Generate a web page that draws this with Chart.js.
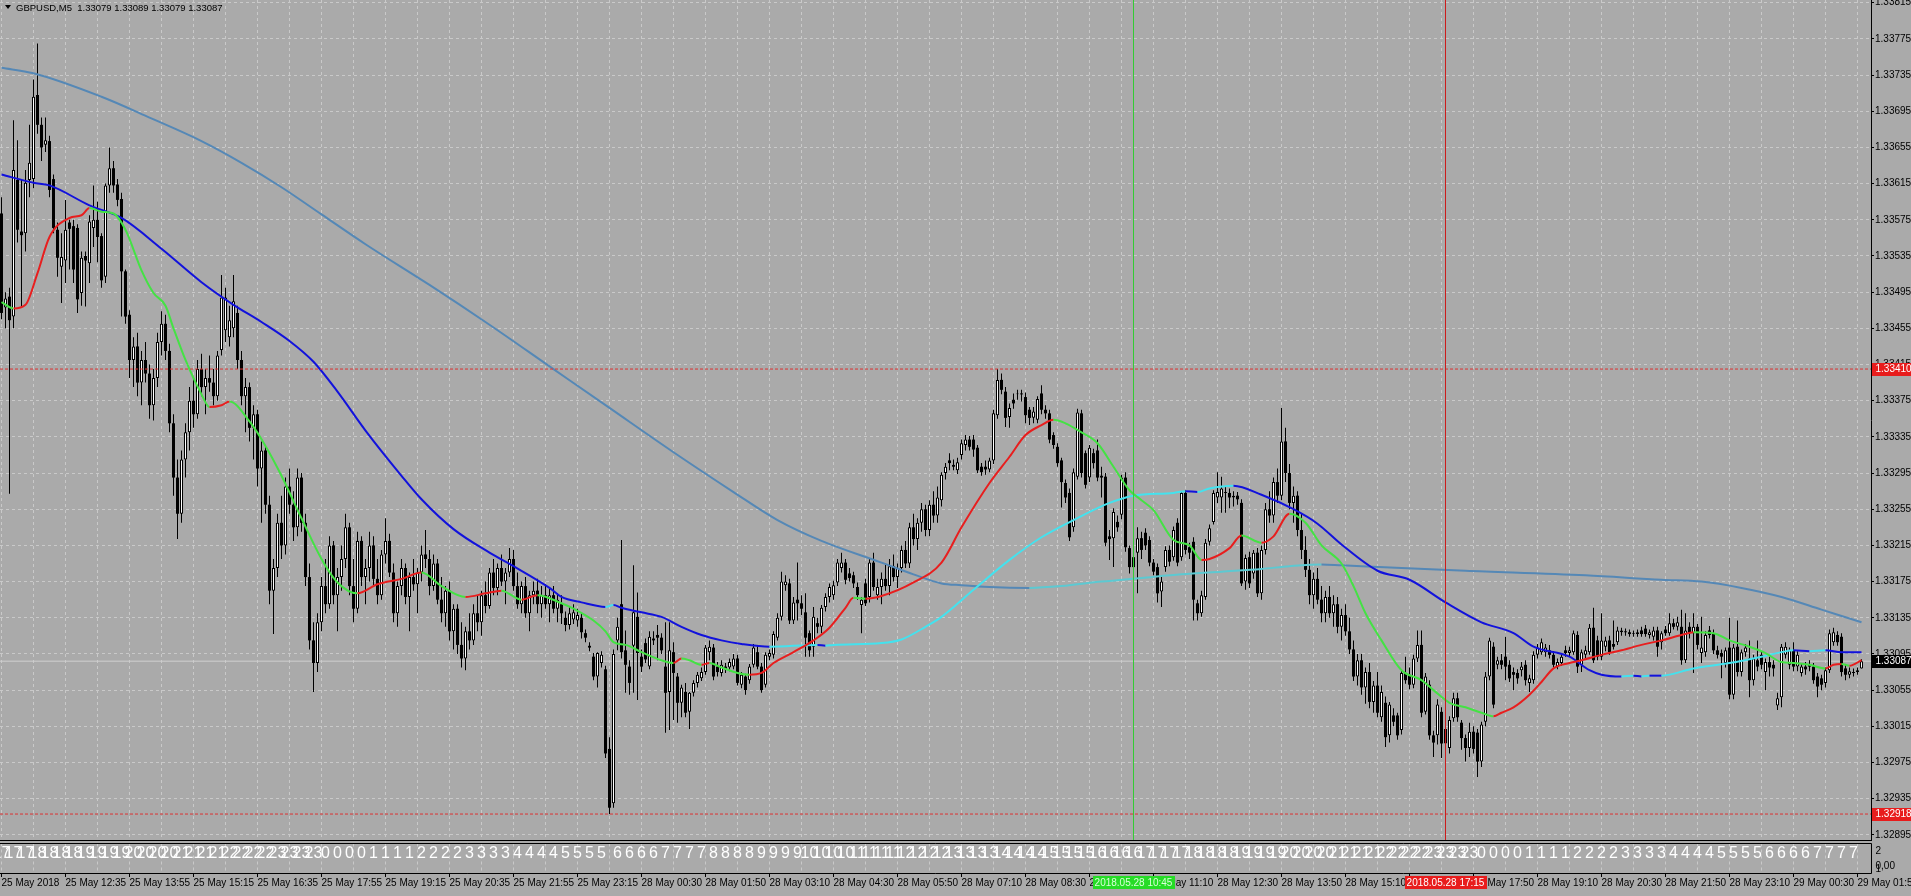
<!DOCTYPE html>
<html>
<head>
<meta charset="utf-8">
<title>GBPUSD,M5</title>
<script src="https://cdn.jsdelivr.net/npm/chart.js@4.4.1/dist/chart.umd.min.js"></script>
<style>
  html, body { margin: 0; padding: 0; background: #aaaaaa; overflow: hidden; }
  canvas { display: block; }
</style>
</head>
<body>
<canvas id="chart" width="1911" height="896" style="width:1911px;height:896px"></canvas>
<script>
// prices are kept in points above 1.30000 (1 point = 0.00001)
const BASE = 1.3;
const POINT = 0.00001;

const headerText = "GBPUSD,M5  1.33079 1.33089 1.33079 1.33087";

// time axis labels, one every 16 bars
const timeLabels = ["25 May 2018","25 May 12:35","25 May 13:55","25 May 15:15","25 May 16:35","25 May 17:55",
  "25 May 19:15","25 May 20:35","25 May 21:55","25 May 23:15","28 May 00:30","28 May 01:50","28 May 03:10",
  "28 May 04:30","28 May 05:50","28 May 07:10","28 May 08:30","28 May 09:50","28 May 11:10","28 May 12:30",
  "28 May 13:50","28 May 15:10","28 May 16:30","28 May 17:50","28 May 19:10","28 May 20:30","28 May 21:50",
  "28 May 23:10","29 May 00:30","29 May 01:50"];

const priceTicks = [1.32895,1.32935,1.32975,1.33015,1.33055,1.33095,1.33135,1.33175,1.33215,1.33255,1.33295,
  1.33335,1.33375,1.33415,1.33455,1.33495,1.33535,1.33575,1.33615,1.33655,1.33695,1.33735,1.33775,1.33815];

// hour numbers printed in the lower window, every 3rd bar of each session
const hoursFriday = "17 17 17 18 18 18 18 19 19 19 19 20 20 20 20 21 21 21 21 22 22 22 22 23 23 23 23 0 0 0 0 1 1 1 1 2 2 2 2 3 3 3 3 4 4 4 4 5 5 5 5".split(" ");
const hoursMonday = "6 6 6 6 7 7 7 7 8 8 8 8 9 9 9 9 10 10 10 10 11 11 11 11 12 12 12 12 13 13 13 13 14 14 14 14 15 15 15 15 16 16 16 16 17 17 17 17 18 18 18 18 19 19 19 19 20 20 20 20 21 21 21 21 22 22 22 22 23 23 23 23 0 0 0 0 1 1 1 1 2 2 2 2 3 3 3 3 4 4 4 4 5 5 5 5 6 6 6 6 7 7 7 7".split(" ");

// [open, high, low, close] per M5 bar
const fridayBars = [
[3582,3600,3465,3472],[3478,3495,3455,3488],[3490,3500,3272,3464],[3468,3685,3455,3630],[3619,3663,3550,3564],
[3562,3619,3479,3558],[3560,3630,3540,3616],[3619,3680,3600,3638],[3620,3730,3610,3711],[3713,3770,3670,3680],
[3680,3688,3640,3655],[3658,3688,3650,3663],[3662,3668,3600,3608],[3620,3625,3560,3566],[3564,3572,3512,3533],
[3523,3560,3483,3534],[3530,3597,3505,3564],[3572,3575,3520,3565],[3568,3575,3505,3520],[3566,3570,3472,3487],
[3494,3540,3480,3533],[3535,3540,3479,3530],[3527,3580,3505,3573],[3566,3613,3545,3575],[3575,3595,3528,3556],
[3557,3560,3500,3508],[3512,3615,3505,3613],[3613,3655,3605,3632],[3632,3640,3605,3613],[3614,3620,3590,3597],
[3598,3605,3468,3518],[3518,3520,3460,3468],[3470,3475,3400,3420],
[3420,3445,3390,3435],[3435,3450,3380,3395],[3395,3430,3370,3420],[3420,3440,3395,3405],[3405,3415,3355,3370],
[3370,3410,3353,3400],[3400,3450,3390,3440],[3440,3474,3425,3460],[3460,3470,3420,3430],[3430,3438,3340,3350],
[3350,3360,3270,3290],[3290,3310,3222,3250],[3250,3320,3240,3310],[3310,3350,3290,3340],[3340,3390,3320,3375],
[3375,3400,3345,3360],[3360,3420,3355,3410],[3410,3427,3380,3390],[3390,3410,3360,3400],[3400,3425,3385,3395],
[3395,3410,3370,3380],[3380,3430,3375,3425],[3431,3514,3425,3489],[3453,3500,3440,3489],[3445,3480,3435,3464],
[3455,3514,3445,3485],[3472,3480,3410,3420],[3420,3430,3370,3380],[3380,3400,3340,3390],[3390,3395,3330,3345],
[3345,3370,3310,3360],[3360,3365,3280,3300],[3300,3330,3240,3320],[3320,3325,3250,3260],[3260,3270,3150,3165],
[3165,3200,3117,3190],[3190,3250,3180,3240],[3240,3270,3200,3215],[3215,3290,3205,3280],[3280,3300,3250,3260],
[3260,3275,3220,3235],[3235,3300,3225,3290],[3290,3295,3230,3240],[3240,3250,3170,3180],[3180,3195,3100,3110],
[3110,3130,3053,3085],[3085,3140,3075,3130],[3130,3180,3120,3170],[3170,3200,3140,3150],[3150,3225,3145,3215],
[3215,3220,3150,3160],[3160,3190,3120,3180],[3180,3215,3165,3200],[3200,3250,3190,3235],[3235,3240,3160,3170],
[3170,3200,3130,3145],[3145,3230,3140,3220],[3220,3225,3170,3180],[3180,3200,3150,3190],[3190,3230,3175,3215],
[3215,3225,3170,3178],[3178,3200,3150,3160],[3160,3210,3155,3205],[3205,3245,3195,3220],[3220,3228,3180,3185],
[3185,3195,3130,3140],[3140,3175,3125,3170],[3170,3200,3160,3190],[3190,3195,3150,3158],[3158,3185,3120,3180],
[3180,3200,3165,3172],[3172,3190,3140,3185],[3185,3215,3175,3205],[3205,3232,3190,3200],[3200,3210,3160,3170],
[3170,3205,3165,3195],[3195,3200,3150,3155],[3155,3180,3130,3140],[3140,3170,3125,3165],[3165,3175,3110,3120],
[3120,3150,3100,3145],[3145,3150,3095,3105],[3105,3130,3080,3090],[3090,3125,3077,3120],[3120,3140,3100,3110],
[3110,3150,3105,3140],[3140,3160,3120,3130],[3130,3165,3115,3160],[3160,3175,3140,3148],[3148,3190,3145,3185],
[3185,3200,3160,3168],[3168,3195,3160,3190],[3190,3205,3170,3175],[3175,3190,3150,3185],[3185,3212,3180,3200],
[3200,3210,3165,3170],[3170,3185,3145,3150],[3150,3175,3140,3170],[3170,3180,3135,3140],[3140,3165,3120,3160],
[3160,3175,3150,3165],[3165,3178,3140,3150],[3150,3170,3135,3160],[3160,3172,3145,3150],[3150,3168,3130,3160],
[3160,3170,3140,3145],[3145,3162,3130,3155],[3150,3160,3128,3140],[3135,3142,3120,3127],[3127,3148,3122,3140],
[3133,3150,3128,3141],[3132,3145,3125,3138],[3135,3140,3112,3119],[3118,3122,3108,3113],[3104,3108,3098,3102],
[3092,3096,3066,3070],[3070,3097,3058,3096],[3085,3098,3080,3094],[3078,3082,2980,2985],[2990,3003,2918,2925],
[2930,3100,2925,3095]
];

const mondayBars = [
[3110,3135,3099,3125],[3150,3221,3090,3097],[3099,3121,3052,3083],[3081,3088,3050,3063],[3104,3193,3052,3141],
[3136,3163,3044,3096],[3092,3100,3075,3081],[3107,3112,3085,3089],[3081,3120,3078,3114],[3112,3120,3105,3110],
[3116,3127,3088,3113],[3113,3118,3095,3099],[3081,3130,3008,3052],[3053,3130,3011,3099],[3097,3108,3022,3074],
[3070,3074,3019,3041],[3041,3061,3025,3058],[3053,3063,3025,3030],[3031,3053,3012,3052],[3052,3066,3048,3063],
[3063,3075,3058,3072],[3068,3080,3065,3075],[3075,3105,3072,3102],[3097,3110,3088,3103],[3102,3106,3066,3070],
[3081,3086,3070,3075],[3074,3088,3070,3083],[3081,3085,3074,3078],[3080,3090,3076,3086],[3081,3095,3078,3090],
[3090,3094,3060,3063],[3061,3075,3057,3072],[3070,3073,3050,3055],[3066,3084,3062,3081],[3083,3106,3080,3102],
[3097,3104,3078,3081],[3081,3085,3052,3055],[3061,3097,3058,3094],[3092,3100,3088,3096],[3094,3120,3090,3117],
[3113,3140,3110,3135],[3136,3186,3132,3175],[3171,3182,3165,3175],[3173,3178,3128,3132],[3132,3158,3128,3152],
[3155,3196,3132,3151],[3151,3160,3138,3145],[3141,3162,3092,3113],[3118,3121,3092,3099],[3103,3147,3092,3136],
[3129,3135,3118,3125],[3125,3149,3118,3146],[3147,3162,3142,3158],[3158,3173,3152,3169],[3160,3176,3155,3171],
[3174,3200,3170,3196],[3190,3207,3185,3196],[3196,3200,3172,3177],[3184,3190,3175,3179],[3182,3186,3168,3173],
[3169,3174,3155,3160],[3149,3158,3118,3155],[3173,3178,3148,3151],[3158,3200,3152,3196],[3196,3207,3165,3169],
[3160,3178,3155,3169],[3169,3185,3150,3178],[3178,3195,3165,3170],[3170,3200,3160,3192],[3192,3205,3175,3180],
[3180,3195,3168,3190],[3190,3215,3185,3210],[3210,3220,3190,3195],[3195,3240,3190,3235],[3235,3250,3215,3222],
[3222,3245,3210,3240],[3240,3262,3230,3255],[3255,3260,3225,3232],[3232,3265,3225,3260],[3260,3275,3240,3248],
[3248,3280,3240,3268],[3265,3296,3258,3293],[3295,3306,3288,3302],[3309,3317,3298,3306],[3304,3310,3298,3302],
[3298,3312,3294,3307],[3315,3332,3310,3328],[3326,3337,3320,3332],[3332,3336,3320,3324],[3332,3337,3313,3321],
[3323,3326,3295,3298],[3302,3306,3292,3296],[3302,3309,3293,3299],[3299,3312,3296,3309],[3309,3365,3305,3361],
[3359,3410,3355,3398],[3398,3405,3382,3387],[3385,3390,3346,3356],[3357,3372,3345,3367],[3376,3383,3366,3372],
[3382,3387,3376,3383],[3383,3387,3374,3382],[3379,3384,3350,3359],[3365,3368,3348,3356],[3356,3368,3350,3363],
[3354,3380,3350,3377],[3383,3392,3360,3365],[3365,3370,3355,3361],[3361,3365,3328,3332],[3337,3340,3322,3326],
[3324,3328,3302,3306],[3309,3312,3257,3285],[3284,3288,3262,3268],[3273,3278,3220,3224],[3235,3300,3230,3296],
[3291,3366,3288,3362],[3361,3365,3290,3295],[3317,3320,3278,3282],[3290,3326,3285,3323],[3317,3322,3300,3306],
[3320,3332,3286,3290],[3292,3302,3268,3290],[3291,3295,3214,3218],[3225,3232,3199,3222],[3223,3256,3191,3252],
[3241,3248,3230,3235],[3249,3293,3244,3290],[3290,3296,3208,3213],[3212,3215,3184,3191],[3202,3206,3184,3191],
[3207,3235,3162,3223],[3223,3230,3200,3210],[3229,3234,3210,3215],[3221,3225,3192,3196],[3196,3200,3182,3186],
[3191,3195,3152,3162],[3164,3180,3147,3175],[3191,3214,3186,3210],[3210,3215,3192,3197],[3202,3236,3198,3232],
[3240,3245,3192,3196],[3202,3275,3198,3273],[3273,3276,3205,3210],[3213,3218,3200,3207],[3219,3224,3132,3155],
[3151,3155,3132,3140],[3140,3165,3136,3160],[3158,3222,3155,3218],[3219,3238,3215,3234],[3241,3276,3238,3273],
[3268,3296,3262,3274],[3268,3291,3251,3278],[3274,3280,3251,3273],[3273,3278,3256,3268],[3268,3275,3258,3270],
[3270,3274,3260,3266],[3262,3266,3170,3173],[3175,3205,3166,3201],[3202,3208,3168,3173],[3184,3210,3178,3207],
[3207,3212,3158,3162],[3162,3215,3155,3210],[3210,3262,3205,3255],[3255,3275,3240,3248],[3248,3290,3240,3285],
[3285,3300,3262,3270],[3270,3367,3265,3330],[3330,3345,3285,3295],[3295,3305,3255,3262],[3262,3280,3240,3270],
[3270,3275,3225,3232],[3232,3250,3200,3210],[3210,3225,3180,3188],[3188,3200,3150,3160],[3160,3185,3145,3178],
[3178,3190,3150,3155],[3155,3170,3130,3140],[3140,3165,3130,3158],[3158,3170,3135,3140],[3140,3160,3125,3150],
[3150,3158,3118,3125],[3125,3145,3110,3138],[3138,3150,3115,3120],[3120,3135,3095,3100],[3100,3110,3065,3070],
[3070,3095,3060,3088],[3088,3095,3050,3058],[3058,3080,3040,3075],[3075,3085,3035,3042],[3042,3065,3030,3060],
[3060,3075,3025,3030],[3025,3060,3020,3053],[3041,3048,2992,3003],[3005,3042,2997,3039],[3027,3035,3015,3020],
[3027,3030,3000,3005],[3011,3078,3006,3074],[3074,3092,3062,3066],[3072,3080,3056,3061],[3061,3094,3057,3090],
[3090,3121,3086,3105],[3105,3121,3025,3030],[3031,3074,3028,3070],[3061,3066,3000,3005],[3005,3010,2981,2997],
[3005,3045,2995,3039],[3031,3036,2980,2996],[2996,3020,2990,3012],[2991,3026,2985,3022],[3024,3052,3020,3046],
[3046,3052,3020,3025],[3019,3022,2989,3002],[3002,3006,2976,2991],[2991,3019,2981,3009],[3009,3015,2985,2990],
[3008,3012,2959,2976],[2976,3020,2970,3017],[3020,3075,3015,3070],[3070,3113,3066,3110],[3103,3108,3035,3039],
[3083,3092,3078,3088],[3088,3095,3078,3083],[3092,3114,3066,3081],[3083,3088,3064,3068],[3075,3080,3055,3072],
[3074,3078,3062,3068],[3077,3086,3070,3081],[3083,3088,3060,3066],[3063,3072,3053,3068],[3066,3098,3062,3094],
[3094,3106,3090,3102],[3097,3112,3094,3108],[3097,3106,3092,3102],[3099,3105,3090,3094],[3094,3098,3080,3083],
[3081,3090,3078,3086],[3085,3095,3082,3092],[3099,3104,3092,3096],[3096,3103,3092,3099],[3097,3121,3094,3118],
[3116,3120,3074,3081],[3083,3100,3075,3097],[3094,3104,3090,3099],[3097,3128,3094,3124],[3124,3146,3085,3088],
[3110,3115,3088,3092],[3092,3140,3088,3110],[3103,3114,3098,3110],[3110,3115,3094,3097],[3106,3132,3100,3103],
[3108,3125,3105,3121],[3119,3124,3115,3121],[3120,3123,3115,3119],[3119,3122,3114,3117],[3117,3121,3114,3118],
[3117,3122,3114,3119],[3121,3125,3114,3117],[3123,3127,3114,3117],[3116,3122,3112,3119],[3114,3125,3110,3121],
[3121,3125,3092,3103],[3108,3120,3100,3118],[3122,3126,3115,3118],[3118,3140,3115,3129],[3129,3134,3122,3125],
[3125,3136,3121,3130],[3125,3144,3083,3088],[3088,3140,3085,3121],[3125,3130,3112,3118],[3118,3140,3074,3125],
[3125,3128,3100,3105],[3096,3136,3085,3102],[3097,3120,3092,3116],[3121,3126,3112,3116],[3118,3122,3095,3099],
[3099,3104,3090,3094],[3096,3100,3068,3092],[3085,3102,3080,3099],[3102,3135,3045,3050],[3050,3106,3045,3102],
[3103,3132,3070,3075],[3075,3100,3070,3097],[3097,3106,3092,3102],[3090,3110,3047,3066],[3066,3094,3060,3090],
[3088,3110,3076,3081],[3094,3098,3078,3083],[3075,3090,3055,3086],[3086,3092,3070,3080],[3083,3088,3070,3079],
[3038,3052,3033,3046],[3047,3106,3036,3103],[3094,3108,3090,3103],[3083,3102,3078,3099],[3099,3108,3076,3081],
[3081,3098,3076,3094],[3074,3085,3070,3081],[3081,3086,3072,3078],[3083,3088,3076,3081],[3081,3085,3062,3066],
[3070,3074,3047,3059],[3068,3072,3055,3061],[3063,3080,3058,3077],[3077,3122,3074,3118],[3108,3124,3104,3119],
[3116,3120,3104,3108],[3114,3118,3070,3075],[3079,3084,3066,3072],[3072,3080,3068,3076],[3074,3079,3070,3075],
[3075,3080,3072,3077],[3079,3089,3079,3087]
];

// moving averages: [bar index, points]
const shortMA = [[0,3484],[3,3477],[6,3481],[9,3516],[12,3556],[17,3577],[20,3580],[22,3588],[25,3584],[28,3582],
  [31,3564],[35,3519],[38,3494],[41,3480],[43,3455],[46,3420],[50,3382],[52,3368],[55,3370],[57,3374],[62,3352],
  [66,3325],[70,3292],[75,3245],[80,3200],[84,3174],[89,3162],[94,3172],[100,3178],[105,3185],[110,3170],[116,3158],
  [121,3162],[125,3165],[130,3155],[134,3160],[140,3151],[143,3145],[148,3132],[151,3120],[153,3108],[156,3105],
  [160,3097],[165,3088],[168,3085],[170,3090],[172,3088],[175,3083],[177,3085],[180,3080],[184,3074],[187,3072],
  [190,3074],[193,3085],[198,3097],[203,3110],[207,3124],[211,3146],[213,3157],[216,3156],[220,3159],[228,3174],
  [235,3196],[240,3235],[247,3284],[252,3313],[256,3337],[260,3348],[263,3354],[266,3350],[270,3340],[274,3328],
  [278,3302],[282,3276],[285,3265],[288,3254],[293,3221],[297,3215],[300,3199],[302,3200],[307,3212],[310,3226],
  [315,3218],[318,3225],[322,3250],[326,3240],[330,3215],[335,3195],[338,3170],[341,3140],[345,3110],[350,3077],
  [355,3066],[358,3055],[362,3041],[366,3036],[370,3030],[373,3026],[375,3030],[378,3036],[382,3050],[385,3064],
  [388,3079],[392,3085],[395,3088],[400,3094],[405,3099],[410,3105],[415,3110],[420,3116],[423,3119],[428,3118],
  [432,3110],[437,3103],[441,3096],[445,3086],[448,3085],[452,3083],[456,3079],[458,3083],[460,3084],[462,3082],
  [465,3088]];

const midMA = [[0,3625],[8,3616],[12,3613],[22,3591],[30,3577],[40,3543],[50,3506],[58,3481],[65,3462],[72,3441],
  [78,3418],[84,3385],[91,3342],[100,3292],[105,3266],[113,3233],[122,3207],[128,3192],[137,3168],[140,3158],
  [145,3152],[151,3147],[153,3149],[155,3146],[160,3141],[165,3136],[170,3125],[175,3116],[180,3110],[185,3106],
  [192,3103],[204,3105],[206,3104],[208,3105],[220,3107],[225,3111],[231,3125],[235,3136],[243,3166],[252,3199],
  [260,3224],[268,3243],[277,3262],[283,3270],[293,3273],[296,3275],[299,3274],[302,3278],[308,3281],[315,3271],
  [323,3255],[329,3239],[335,3216],[344,3187],[352,3177],[361,3152],[370,3130],[378,3118],[383,3103],[392,3092],
  [397,3077],[400,3072],[405,3070],[408,3071],[410,3070],[412,3071],[415,3071],[423,3079],[432,3085],[440,3092],
  [445,3097],[448,3099],[452,3098],[456,3099],[460,3097],[465,3097]];

const longMA = [[0,3743],[8,3737],[25,3711],[37,3688],[50,3662],[60,3638],[70,3611],[80,3581],[91,3548],[107,3503],
  [122,3459],[137,3413],[152,3367],[168,3318],[183,3274],[194,3243],[205,3220],[220,3196],[228,3183],[235,3173],
  [240,3171],[247,3169],[257,3168],[265,3170],[275,3175],[285,3179],[295,3183],[305,3186],[315,3189],[322,3192],
  [330,3194],[335,3193],[350,3190],[366,3187],[396,3182],[415,3177],[425,3175],[435,3168],[445,3158],[455,3144],
  [465,3130]];

const levelHigh = 1.33410;
const levelLow = 1.32918;
const bidPrice = 1.33087;
const greenMarkerBar = 283, greenMarkerText = "2018.05.28 10:45";
const redMarkerBar = 361, redMarkerText = "2018.05.28 17:15";
const mondayStartBar = fridayBars.length;

// layout
const X_MIN = -0.375, X_MAX = 467.375;
const Y_MIN = 1.328893, Y_MAX = 1.33818;
const BG = '#aaaaaa';
const GRID = '#c9c9c9';
const FONT = '"Liberation Sans", Arial, sans-serif';

const toPrice = v => +(BASE + v * POINT).toFixed(5);

const bars = fridayBars.concat(mondayBars);
const wicks = [], bull = [], bear = [], doji = [];
bars.forEach((b, i) => {
  const [o, h, l, c] = b.map(toPrice);
  wicks.push({x: i, y: [l, h]});
  if (c > o) bull.push({x: i, y: [o, c]});
  else if (c < o) bear.push({x: i, y: [c, o]});
  else doji.push({x: i, y: o});
});

const gridBars = [];
for (let v = 0; v <= 464; v += 8) gridBars.push(v);

function hLine(p) { return [{x: X_MIN, y: p}, {x: X_MAX, y: p}]; }
function vLine(bar) { return [{x: bar, y: Y_MIN}, {x: bar, y: Y_MAX}]; }

// colour switches with the direction of each segment
function maLine(points, fallColor, riseColor, order) {
  return {
    type: 'line',
    data: points.map(([i, v]) => ({x: i, y: toPrice(v)})),
    borderColor: fallColor,
    borderWidth: 2,
    pointRadius: 0,
    cubicInterpolationMode: 'monotone',
    segment: {
      borderColor: ctx => ctx.p1.parsed.y > ctx.p0.parsed.y ? riseColor : fallColor
    },
    order: order
  };
}

const extras = {
  id: 'mt4Extras',
  beforeDraw(chart) {
    const c = chart.ctx;
    c.save();
    c.fillStyle = BG;
    c.fillRect(0, 0, chart.width, chart.height);
    c.restore();
  },
  afterDraw(chart) {
    const c = chart.ctx;
    const xs = chart.scales.x, ys = chart.scales.y, area = chart.chartArea;
    const right = Math.round(area.right) + 0.5;
    c.save();

    // symbol header
    c.fillStyle = '#000';
    c.beginPath();
    c.moveTo(5, 5); c.lineTo(11, 5); c.lineTo(8, 9); c.closePath(); c.fill();
    c.font = '9.5px ' + FONT;
    c.textAlign = 'left';
    c.textBaseline = 'middle';
    c.fillText(headerText, 16, 8);

    // lower indicator window
    const subTop = 843.5, subBottom = 873.5;
    c.save();
    c.beginPath();
    c.rect(0, subTop, area.right, subBottom - subTop);
    c.clip();
    c.strokeStyle = GRID;
    c.setLineDash([3, 3]);
    c.lineWidth = 1;
    gridBars.forEach(v => {
      const x = Math.round(xs.getPixelForValue(v) - 0.5) + 0.5;
      c.beginPath(); c.moveTo(x, subTop); c.lineTo(x, subBottom); c.stroke();
    });
    c.setLineDash([]);
    c.fillStyle = '#ffffff';
    c.font = '16px "Liberation Sans Narrow", ' + FONT;
    c.textAlign = 'center';
    c.textBaseline = 'alphabetic';
    hoursFriday.forEach((t, k) => c.fillText(t, xs.getPixelForValue(3 * k), 858));
    hoursMonday.forEach((t, k) => c.fillText(t, xs.getPixelForValue(mondayStartBar + 3 * k), 858));
    c.restore();

    c.strokeStyle = '#000';
    c.lineWidth = 1;
    c.beginPath();
    c.moveTo(0, subTop); c.lineTo(right, subTop);
    c.moveTo(0, subBottom); c.lineTo(right, subBottom);
    c.moveTo(right, subTop); c.lineTo(right, subBottom);
    c.stroke();
    c.fillStyle = '#000';
    c.font = '10px ' + FONT;
    c.textAlign = 'left';
    c.textBaseline = 'middle';
    c.fillText('2', right + 4, 851);
    c.fillText('0,00', right + 4, 866);
    c.fillText('1', right + 4, 869);

    // time axis tick marks
    c.beginPath();
    timeLabels.forEach((t, k) => {
      const x = Math.round(xs.getPixelForValue(16 * k) - 0.5) + 0.5;
      c.moveTo(x, 873.5); c.lineTo(x, 877);
    });
    c.stroke();

    // price markers on the right axis
    const priceBox = (p, bg) => {
      const y = Math.round(ys.getPixelForValue(p));
      c.fillStyle = bg;
      c.fillRect(right + 0.5, y - 6, chart.width - right, 13);
      c.fillStyle = '#ffffff';
      c.fillText(p.toFixed(5), right + 4, y + 0.5);
    };
    priceBox(levelHigh, '#e81c1c');
    priceBox(levelLow, '#e81c1c');
    priceBox(bidPrice, '#000000');

    // time markers on the bottom axis
    const timeBox = (bar, text, bg, fg) => {
      const x = xs.getPixelForValue(bar);
      const w = c.measureText(text).width + 4;
      c.fillStyle = bg;
      c.fillRect(Math.round(x - w / 2), 876, Math.round(w), 13);
      c.fillStyle = fg;
      c.textAlign = 'center';
      c.fillText(text, x, 883);
    };
    timeBox(greenMarkerBar, greenMarkerText, '#26dc26', '#d8ffd8');
    timeBox(redMarkerBar, redMarkerText, '#e81c1c', '#ffffff');
    c.restore();
  }
};

const common = {grouped: false, inflateAmount: 0, borderSkipped: false};

new Chart(document.getElementById('chart'), {
  type: 'bar',
  data: {
    datasets: [
      {type: 'line', data: hLine(bidPrice), borderColor: '#cfcfcf', borderWidth: 1, pointRadius: 0, order: 30},
      Object.assign({data: wicks, backgroundColor: '#000', borderWidth: 0, barThickness: 1, order: 22}, common),
      Object.assign({data: bear, backgroundColor: '#000', borderWidth: 0, barThickness: 3, order: 21}, common),
      Object.assign({data: bull, backgroundColor: '#fff', borderColor: '#000', borderWidth: 1, barThickness: 3, order: 20}, common),
      {type: 'line', data: doji, showLine: false, pointStyle: 'line', pointRadius: 1.5, borderColor: '#000', borderWidth: 1, order: 19},
      maLine(longMA, '#5588b6', '#5cc9d2', 8),
      maLine(midMA, '#1212dc', '#44e2ee', 7),
      maLine(shortMA, '#44e244', '#e81e1e', 6),
      {type: 'line', data: hLine(levelHigh), borderColor: '#dc3434', borderWidth: 1, borderDash: [3, 2], pointRadius: 0, order: 3},
      {type: 'line', data: hLine(levelLow), borderColor: '#dc3434', borderWidth: 1, borderDash: [3, 2], pointRadius: 0, order: 3},
      {type: 'line', data: vLine(greenMarkerBar), borderColor: '#33cc33', borderWidth: 1, pointRadius: 0, order: 2},
      {type: 'line', data: vLine(redMarkerBar), borderColor: '#cc1c1c', borderWidth: 1, pointRadius: 0, order: 2}
    ]
  },
  options: {
    responsive: false,
    animation: false,
    devicePixelRatio: 1,
    layout: {padding: 0},
    plugins: {legend: {display: false}, tooltip: {enabled: false}},
    scales: {
      x: {
        type: 'linear',
        position: 'bottom',
        min: X_MIN,
        max: X_MAX,
        offset: false,
        afterBuildTicks: s => { s.ticks = gridBars.map(v => ({value: v})); },
        afterFit: s => { s.height = 56; s.paddingLeft = 0; s.paddingRight = 0; },
        grid: {color: GRID, lineWidth: 1, drawTicks: false, offset: false},
        border: {display: true, color: '#000', width: 1, dash: [3, 3]},
        ticks: {
          autoSkip: false, maxRotation: 0, minRotation: 0, align: 'start', padding: 37,
          color: '#000', font: {family: FONT, size: 10},
          callback: v => (v % 16 === 0 ? timeLabels[v / 16] : '')
        }
      },
      y: {
        type: 'linear',
        position: 'right',
        min: Y_MIN,
        max: Y_MAX,
        afterBuildTicks: s => { s.ticks = priceTicks.map(v => ({value: v})); },
        afterFit: s => { s.width = 40; s.paddingTop = 0; s.paddingBottom = 0; },
        grid: {color: GRID, lineWidth: 1, drawTicks: true, tickLength: 3, tickColor: '#000'},
        border: {display: true, color: '#000', width: 1, dash: [3, 3]},
        ticks: {
          autoSkip: false, padding: 1, color: '#000', font: {family: FONT, size: 10},
          callback: v => v.toFixed(5)
        }
      }
    }
  },
  plugins: [extras]
});
</script>
</body>
</html>
